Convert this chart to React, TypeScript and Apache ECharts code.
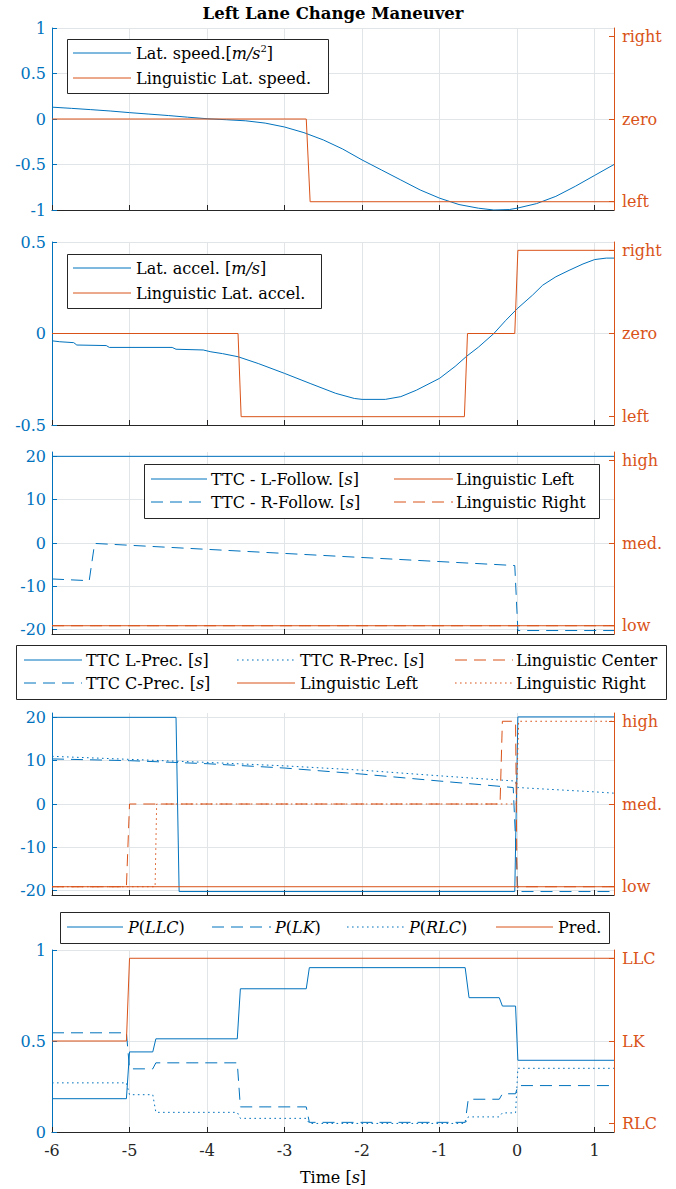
import React, { useEffect, useRef } from "react";
import * as echarts from "echarts";

const BLUE = "#0072BD";
const ORANGE = "#D95319";
const DARK = "#262626";
const GRIDC = "#e2e5e8";
const FONT = "'DejaVu Serif', serif";
const FS = 16;

// ---------- data ----------
const timeTicks = [-6, -5, -4, -3, -2, -1, 0, 1];

// Panel 1
const latSpeed: [number, number][] = [
  [-6, 0.13], [-5.75, 0.117], [-5.5, 0.103], [-5.25, 0.088], [-5, 0.07], [-4.75, 0.054],
  [-4.5, 0.038], [-4.25, 0.02], [-4, 0.003], [-3.75, -0.008], [-3.5, -0.02], [-3.25, -0.045],
  [-3, -0.088], [-2.75, -0.15], [-2.5, -0.23], [-2.25, -0.33], [-2, -0.45], [-1.75, -0.56],
  [-1.5, -0.67], [-1.25, -0.78], [-1, -0.87], [-0.75, -0.94], [-0.5, -0.98], [-0.3, -1.0],
  [-0.1, -0.995], [0, -0.98], [0.25, -0.93], [0.5, -0.85], [0.75, -0.74], [1, -0.62], [1.25, -0.5],
];
const lingLatSpeed: [number, number][] = [[-6, 1], [-2.72, 1], [-2.67, 0], [1.25, 0]];
const speedLevels = ["left", "zero", "right"];

// Panel 2
const latAccel: [number, number][] = [
  [-6, -0.04], [-5.9, -0.045], [-5.72, -0.05], [-5.68, -0.063], [-5.3, -0.066], [-5.26, -0.076],
  [-4.45, -0.076], [-4.4, -0.086], [-4.05, -0.09], [-3.95, -0.1], [-3.8, -0.11], [-3.6, -0.127],
  [-3.34, -0.164], [-3.0, -0.218], [-2.67, -0.273], [-2.34, -0.327], [-2.1, -0.355], [-2.0, -0.36],
  [-1.7, -0.36], [-1.5, -0.345], [-1.3, -0.31], [-1.0, -0.245], [-0.8, -0.18], [-0.65, -0.124],
  [-0.5, -0.075], [-0.3, 0.0], [-0.15, 0.07], [0, 0.135], [0.2, 0.21], [0.33, 0.264], [0.5, 0.31],
  [0.67, 0.345], [0.85, 0.38], [1.0, 0.404], [1.15, 0.412], [1.25, 0.412],
];
const lingLatAccel: [number, number][] = [
  [-6, 1], [-3.6, 1], [-3.56, 0], [-0.68, 0], [-0.64, 1], [-0.03, 1], [0.01, 2], [1.25, 2],
];
const accelLevels = ["left", "zero", "right"];

// Panel 3
const ttcLFollow: [number, number][] = [[-6, 20], [1.25, 20]];
const ttcRFollow: [number, number][] = [
  [-6, -8.3], [-5.52, -8.7], [-5.45, -0.1], [-0.03, -5.2], [0.01, -20.2], [1.25, -20.2],
];
const lingLeft3: [number, number][] = [[-6, 0], [1.25, 0]];
const lingRight3: [number, number][] = [[-6, 0], [1.25, 0]];
const ttcLevels = ["low", "med.", "high"];

// Panel 4
const ttcLPrec: [number, number][] = [
  [-6, 20], [-4.4, 20], [-4.36, -20.2], [-0.03, -20.2], [0.01, 20.1], [1.25, 20.1],
];
const ttcCPrec: [number, number][] = [
  [-6, 10.4], [-5, 10.0], [-4, 9.3], [-3, 8.3], [-2, 6.9], [-1, 5.3], [-0.05, 3.8],
  [0.01, -20.2], [1.25, -20.2],
];
const ttcRPrec: [number, number][] = [
  [-6, 11.0], [-5, 10.3], [-4, 9.6], [-3, 8.8], [-2, 7.8], [-1, 6.5], [-0.03, 5.3],
  [0.01, 3.8], [0.5, 3.3], [1, 2.8], [1.25, 2.5],
];
const lingLeft4: [number, number][] = [[-6, 0], [1.25, 0]];
const lingCenter4: [number, number][] = [
  [-6, 0], [-5.04, 0], [-5.0, 1], [-0.22, 1], [-0.19, 2], [-0.02, 2], [0.0, 0], [1.25, 0],
];
const lingRight4: [number, number][] = [
  [-6, 0], [-4.67, 0], [-4.65, 1], [-0.01, 1], [0.02, 2], [1.25, 2],
];

// Panel 5
const pLLC: [number, number][] = [
  [-6, 0.183], [-5.04, 0.183], [-5.0, 0.44], [-4.7, 0.44], [-4.66, 0.512], [-3.61, 0.512],
  [-3.57, 0.787], [-2.72, 0.787], [-2.68, 0.903], [-0.67, 0.903], [-0.62, 0.738], [-0.23, 0.738],
  [-0.19, 0.692], [-0.02, 0.692], [0.01, 0.394], [1.25, 0.394],
];
const pLK: [number, number][] = [
  [-6, 0.545], [-5.04, 0.545], [-5.0, 0.347], [-4.7, 0.347], [-4.66, 0.38], [-3.61, 0.38],
  [-3.57, 0.138], [-2.72, 0.138], [-2.68, 0.053], [-0.67, 0.053], [-0.63, 0.18], [-0.23, 0.18],
  [-0.19, 0.21], [-0.02, 0.21], [0.01, 0.255], [1.25, 0.255],
];
const pRLC: [number, number][] = [
  [-6, 0.27], [-5.04, 0.27], [-5.0, 0.205], [-4.7, 0.205], [-4.66, 0.108], [-3.61, 0.108],
  [-3.57, 0.075], [-2.72, 0.075], [-2.68, 0.047], [-0.67, 0.047], [-0.63, 0.083], [-0.23, 0.083],
  [-0.19, 0.105], [-0.02, 0.105], [0.01, 0.35], [1.25, 0.35],
];
const pred: [number, number][] = [[-6, 1], [-5.04, 1], [-5.0, 2], [1.25, 2]];
const predLevels = ["RLC", "LK", "LLC"];

// ---------- layout ----------
const GL = 52;
const GW = 562;
const panels = [
  { top: 28, height: 182, min: -1, max: 1, ticks: [-1, -0.5, 0, 0.5, 1], levels: speedLevels },
  { top: 242, height: 183, min: -0.5, max: 0.5, ticks: [-0.5, 0, 0.5], levels: accelLevels },
  { top: 452, height: 182, min: -21, max: 21, ticks: [-20, -10, 0, 10, 20], levels: ttcLevels },
  { top: 713, height: 182, min: -21, max: 21, ticks: [-20, -10, 0, 10, 20], levels: ttcLevels },
  { top: 950, height: 182, min: 0, max: 1, ticks: [0, 0.5, 1], levels: predLevels },
];

const DASH = [12, 7];
const DOT = [1.6, 3.4];

const RICH: any = {
  n: { fontFamily: FONT, fontSize: FS, fill: "#000", color: "#000", lineHeight: 20 },
  i: { fontFamily: FONT, fontSize: FS, fontStyle: "italic", fill: "#000", color: "#000", lineHeight: 20 },
  s: { fontFamily: FONT, fontSize: 10, fill: "#000", color: "#000", lineHeight: 12, verticalAlign: "top" },
};

function txt(x: number, y: number, text: string, extra: any = {}) {
  return {
    type: "text",
    x,
    y,
    z: 101,
    style: {
      text,
      rich: RICH,
      fontFamily: FONT,
      fontSize: FS,
      fill: "#000",
      align: "left",
      verticalAlign: "middle",
      ...extra,
    },
  };
}

function sample(x1: number, x2: number, y: number, color: string, dash?: number[]) {
  return {
    type: "line",
    z: 101,
    shape: { x1, y1: y, x2, y2: y },
    style: { stroke: color, lineWidth: 1, lineDash: dash || null },
  };
}

function box(x: number, y: number, w: number, h: number) {
  return {
    type: "rect",
    z: 100,
    shape: { x: x + 0.5, y: y + 0.5, width: w, height: h },
    style: { fill: "#fff", stroke: DARK, lineWidth: 1 },
  };
}

function ser(data: [number, number][], p: number, right: boolean, color: string, dash?: number[], z = 2) {
  return {
    type: "line",
    data,
    xAxisIndex: p,
    yAxisIndex: p * 2 + (right ? 1 : 0),
    symbol: "none",
    showSymbol: false,
    silent: true,
    z,
    lineStyle: { color, width: 1, type: dash || "solid" },
    itemStyle: { color },
  };
}

export default function App() {
  const ref = useRef<HTMLDivElement>(null);
  useEffect(() => {
    if (!ref.current) return;
    const chart = echarts.init(ref.current, null, { renderer: "svg", width: 676, height: 1189 });

    const grid = panels.map((p) => ({ left: GL, width: GW, top: p.top, height: p.height, containLabel: false }));

    const xAxis = panels.map((p, i) => ({
      type: "value",
      gridIndex: i,
      min: -6,
      max: 1.25,
      axisLine: { show: true, onZero: false, lineStyle: { color: DARK, width: 1 } },
      axisTick: { show: true, inside: true, length: 5, customValues: timeTicks, lineStyle: { color: DARK } },
      axisLabel: {
        show: i === 4,
        customValues: timeTicks,
        color: DARK,
        fontFamily: FONT,
        fontSize: FS,
        margin: 10,
      },
      splitLine: { show: true, lineStyle: { color: GRIDC, width: 1 } },
    }));

    const yAxis: any[] = [];
    panels.forEach((p, i) => {
      yAxis.push({
        type: "value",
        gridIndex: i,
        position: "left",
        min: p.min,
        max: p.max,
        axisLine: { show: true, onZero: false, lineStyle: { color: BLUE, width: 1 } },
        axisTick: { show: true, inside: true, length: 5, customValues: p.ticks, lineStyle: { color: BLUE } },
        axisLabel: {
          customValues: p.ticks,
          color: BLUE,
          fontFamily: FONT,
          fontSize: FS,
          margin: 6,
        },
        splitLine: { show: true, lineStyle: { color: GRIDC, width: 1 } },
      });
      yAxis.push({
        type: "value",
        gridIndex: i,
        position: "right",
        min: -0.1,
        max: 2.1,
        axisLine: { show: true, onZero: false, lineStyle: { color: ORANGE, width: 1 } },
        axisTick: { show: true, inside: true, length: 5, customValues: [0, 1, 2], lineStyle: { color: ORANGE } },
        axisLabel: {
          customValues: [0, 1, 2],
          formatter: (v: number) => p.levels[Math.round(v)] ?? "",
          color: ORANGE,
          fontFamily: FONT,
          fontSize: FS,
          margin: 8,
        },
        splitLine: { show: false },
      });
    });

    const series = [
      ser(latSpeed, 0, false, BLUE),
      ser(lingLatSpeed, 0, true, ORANGE),
      ser(latAccel, 1, false, BLUE),
      ser(lingLatAccel, 1, true, ORANGE),
      ser(ttcLFollow, 2, false, BLUE),
      ser(ttcRFollow, 2, false, BLUE, DASH),
      ser(lingLeft3, 2, true, ORANGE),
      ser(lingRight3, 2, true, ORANGE, DASH),
      ser(ttcLPrec, 3, false, BLUE),
      ser(ttcCPrec, 3, false, BLUE, DASH),
      ser(ttcRPrec, 3, false, BLUE, DOT),
      ser(lingLeft4, 3, true, ORANGE),
      ser(lingCenter4, 3, true, ORANGE, DASH),
      ser(lingRight4, 3, true, ORANGE, DOT),
      ser(pLLC, 4, false, BLUE),
      ser(pLK, 4, false, BLUE, DASH),
      ser(pRLC, 4, false, BLUE, DOT),
      ser(pred, 4, true, ORANGE),
    ];

    const graphic: any[] = [
      {
        type: "text",
        x: 333,
        y: 13,
        z: 101,
        style: {
          text: "Left Lane Change Maneuver",
          fontFamily: FONT,
          fontSize: 16.5,
          fontWeight: "bold",
          fill: "#000",
          align: "center",
          verticalAlign: "middle",
        },
      },
      txt(333, 1177, "{n|Time [}{i|s}{n|]}", { align: "center", fill: DARK }),
      // legend 1
      box(67, 39, 261, 54),
      sample(73, 131, 53, BLUE),
      txt(136, 53, "{n|Lat. speed.[}{i|m/s}{s|2}{n|]}"),
      sample(73, 131, 78, ORANGE),
      txt(136, 78, "{n|Linguistic Lat. speed.}"),
      // legend 2
      box(67, 254, 254, 54),
      sample(73, 131, 268, BLUE),
      txt(136, 268, "{n|Lat. accel. [}{i|m/s}{n|]}"),
      sample(73, 131, 293, ORANGE),
      txt(136, 293, "{n|Linguistic Lat. accel.}"),
      // legend 3
      box(144, 464, 455, 54),
      sample(151, 207, 479, BLUE),
      txt(211, 479, "{n|TTC - L-Follow. [}{i|s}{n|]}"),
      sample(151, 207, 502, BLUE, DASH),
      txt(211, 502, "{n|TTC - R-Follow. [}{i|s}{n|]}"),
      sample(394, 453, 479, ORANGE),
      txt(456, 479, "{n|Linguistic Left}"),
      sample(394, 453, 502, ORANGE, DASH),
      txt(456, 502, "{n|Linguistic Right}"),
      // legend 4
      box(16, 645, 650, 54),
      sample(24, 82, 660, BLUE),
      txt(86, 660, "{n|TTC L-Prec. [}{i|s}{n|]}"),
      sample(24, 82, 683, BLUE, DASH),
      txt(86, 683, "{n|TTC C-Prec. [}{i|s}{n|]}"),
      sample(237, 295, 660, BLUE, DOT),
      txt(300, 660, "{n|TTC R-Prec. [}{i|s}{n|]}"),
      sample(237, 295, 683, ORANGE),
      txt(300, 683, "{n|Linguistic Left}"),
      sample(455, 513, 660, ORANGE, DASH),
      txt(516, 660, "{n|Linguistic Center}"),
      sample(455, 513, 683, ORANGE, DOT),
      txt(516, 683, "{n|Linguistic Right}"),
      // legend 5
      box(60, 912, 549, 31),
      sample(67, 123, 927, BLUE),
      txt(128, 927, "{i|P}{n|(}{i|LLC}{n|)}"),
      sample(212, 271, 927, BLUE, DASH),
      txt(275, 927, "{i|P}{n|(}{i|LK}{n|)}"),
      sample(347, 405, 927, BLUE, DOT),
      txt(409, 927, "{i|P}{n|(}{i|RLC}{n|)}"),
      sample(496, 553, 927, ORANGE),
      txt(558, 927, "{n|Pred.}"),
    ];

    chart.setOption({
      animation: false,
      backgroundColor: "#fff",
      textStyle: { fontFamily: FONT },
      grid,
      xAxis,
      yAxis,
      series,
      graphic,
    });
    return () => chart.dispose();
  }, []);
  return <div ref={ref} style={{ position: "fixed", left: 0, top: 0, width: 676, height: 1189 }} />;
}
